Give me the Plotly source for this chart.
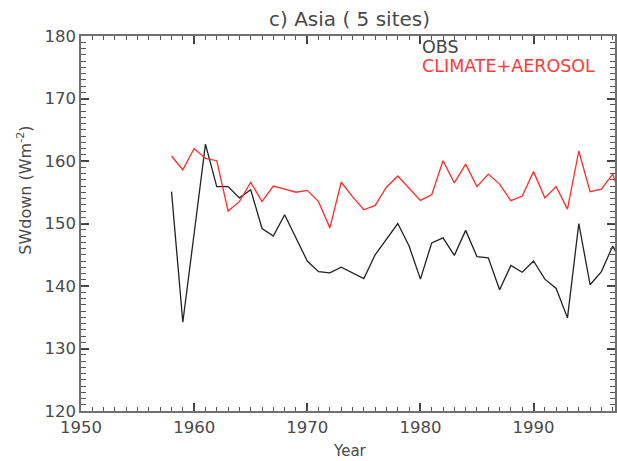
import plotly.graph_objects as go

years = list(range(1958, 1999))
obs = [155.1, 134.2, 148.4, 162.7, 155.9, 155.9, 154.1, 155.4, 149.2, 148.0,
       151.4, 147.6, 144.0, 142.3, 142.1, 143.0, 142.1, 141.2, 145.0, 147.6,
       150.0, 146.4, 141.1, 146.9, 147.7, 144.9, 148.9, 144.7, 144.5, 139.4,
       143.3, 142.2, 144.0, 141.1, 139.6, 134.9, 150.0, 140.2, 142.3, 146.4,
       143.0]
climate_aerosol = [160.8, 158.6, 162.0, 160.4, 160.05, 152.0, 153.5, 156.6, 153.5, 156.0,
                   155.5, 155.0, 155.3, 153.5, 149.3, 156.6, 154.3, 152.2, 152.9, 155.8,
                   157.6, 155.7, 153.7, 154.6, 160.05, 156.5, 159.5, 155.9, 157.9, 156.3,
                   153.65, 154.4, 158.3, 154.1, 155.9, 152.3, 161.6, 155.1, 155.5, 157.9,
                   152.5]
series_names = ["OBS", "CLIMATE+AEROSOL"]
series_colors = ["#222222", "#ff2a2a"]
label_colors = ["#444444", "#ff3a3a"]
x_ticks = [1950, 1960, 1970, 1980, 1990]
y_ticks = [120, 130, 140, 150, 160, 170, 180]
x_range = [1950, 1997.2]
y_range = [120, 180]
title = "c) Asia ( 5 sites)"

FONT = "DejaVu Sans"
TXT = "#4a4a4a"

fig = go.Figure()
# OBS on the main axes, model series on the overlaid minor-tick axes (identical ranges)
fig.add_trace(go.Scatter(x=years, y=obs, mode="lines", name=series_names[0],
                         line=dict(color=series_colors[0], width=1.3), showlegend=False,
                         xaxis="x", yaxis="y"))
fig.add_trace(go.Scatter(x=years, y=climate_aerosol, mode="lines", name=series_names[1],
                         line=dict(color=series_colors[1], width=1.3), showlegend=False,
                         xaxis="x2", yaxis="y2"))

axis_common = dict(
    showgrid=False, zeroline=False, showline=True, linecolor="#707070", linewidth=1.5,
    mirror="ticks", ticks="inside", tickcolor="#404040", tickwidth=1.5, ticklen=8,
    automargin=False,
    tickfont=dict(family=FONT, size=16.5, color=TXT),
)
minor_common = dict(
    showgrid=False, zeroline=False, showline=False, mirror="ticks", ticks="inside",
    tickcolor="#555555", tickwidth=1.2, showticklabels=False, automargin=False,
    tickmode="linear", dtick=1,
)

fig.update_layout(
    template="none",
    width=617, height=461,
    margin=dict(l=81, r=2, t=36, b=50),
    paper_bgcolor="white", plot_bgcolor="white",
    xaxis=dict(range=x_range, tickvals=x_ticks, **axis_common),
    yaxis=dict(range=y_range, tickvals=y_ticks, **axis_common),
    xaxis2=dict(range=x_range, overlaying="x", side="bottom", anchor="y2",
                tick0=x_range[0], ticklen=4, **minor_common),
    yaxis2=dict(range=y_range, overlaying="y", side="left", anchor="x2",
                tick0=y_range[0], ticklen=5, **minor_common),
)

annotations = [
    dict(text=title, xref="paper", yref="paper", x=0.503, y=1.0, yshift=17,
         showarrow=False, xanchor="center", yanchor="middle",
         font=dict(family=FONT, size=20, color=TXT)),
    dict(text="SWdown (Wm<sup>-2</sup>)", xref="paper", yref="paper", x=-0.105, y=0.59,
         textangle=-90, showarrow=False, xanchor="center", yanchor="middle",
         font=dict(family=FONT, size=16, color=TXT)),
    dict(text="Year", xref="paper", yref="paper", x=0.503, y=0, yshift=-40,
         showarrow=False, xanchor="center", yanchor="middle",
         font=dict(family=FONT, size=15, color=TXT)),
]
for i, (name, col) in enumerate(zip(series_names, label_colors)):
    annotations.append(dict(text=name, xref="paper", yref="paper", x=0.635, y=0.971 - i * 0.051,
                            showarrow=False, xanchor="left", yanchor="middle",
                            font=dict(family=FONT, size=17.5, color=col)))
fig.update_layout(annotations=annotations)

fig.write_html("out.html", config={"displayModeBar": False},
               post_script="document.body.style.margin='0';document.body.style.padding='0';")
